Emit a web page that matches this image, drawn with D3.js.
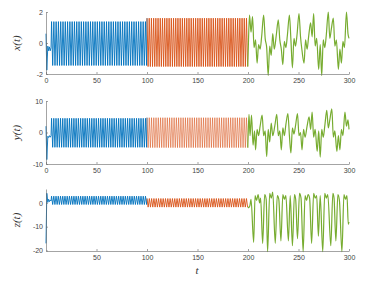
<!DOCTYPE html>
<html>
<head>
<meta charset="utf-8">
<script src="https://cdn.jsdelivr.net/npm/d3@7"></script>
<style>
  body { margin: 0; background: #fff; }
  .tick text { font-family: "Liberation Sans", Arial, sans-serif; font-size: 7px; fill: #444; }
  .domain, .tick line { stroke: #666; stroke-width: 0.6; }
  .lab { font-family: "Liberation Serif", "DejaVu Serif", serif; font-style: italic; font-size: 11px; fill: #333; }
</style>
</head>
<body>
<svg id="chart" width="373" height="286"></svg>
<script>
// 色 (Matlab default order)
const COLORS = { blue: "#0072BD", orange: "#D95319", green: "#77AC30" };

// x 軸の目盛り
const xTicksTop = [0, 50, 100, 150, 200, 250, 300];
const xTicksBottom = [50, 100, 150, 200, 250, 300];

// 各パネルの y 目盛り
const yTicksX = [-2, 0, 2];
const yTicksY = [-10, 0, 10];
const yTicksZ = [-20, -10, 0];

// 青: 過渡部分 (t, 値)
const blueLeadT = [0, 0.8, 1.8, 2.6, 3.4, 4.2, 5.0];
const xBlueLead = [0.6, -1.75, -0.2, -0.5, -0.25, -0.5, -0.3];
const yBlueLead = [2, -8.6, -1.2, -1.6, -1.0, -1.5, -1.0];
const zBlueLead = [-17, 4, 0.2, 1.5, 0.5, 1.2, 0.8];

// 青: 周期部分 (区間 [5.5, 99.6] に等間隔で並ぶ極値)
const blueSpan = [5.5, 99.6];
const xBlue = [1.38,-1.45,1.38,-1.45,1.38,-1.45,1.38,-1.45,1.38,-1.45,1.38,-1.45,1.38,-1.45,1.38,-1.45,1.38,-1.45,1.38,-1.45,1.38,-1.45,1.38,-1.45,1.38,-1.45,1.38,-1.45,1.38,-1.45,1.38,-1.45,1.38,-1.45,1.38,-1.45,1.38,-1.45,1.38,-1.45,1.38,-1.45,1.38,-1.45,1.38,-1.45,1.38,-1.45,1.38,-1.45,1.38,-1.45,1.38,-1.45,1.38,-1.45,1.38,-1.45,1.38,-1.45,1.38,-1.45,1.38,-1.45,1.38,-1.45,1.38,-1.45,1.38,-1.45,1.38,-1.45,1.38,-1.45,1.38,-1.45,1.38,-1.45,1.38,-1.45,1.38,-1.45,1.38,-1.45];
const yBlue = [4.5,-4.7,4.5,-4.7,4.5,-4.7,4.5,-4.7,4.5,-4.7,4.5,-4.7,4.5,-4.7,4.5,-4.7,4.5,-4.7,4.5,-4.7,4.5,-4.7,4.5,-4.7,4.5,-4.7,4.5,-4.7,4.5,-4.7,4.5,-4.7,4.5,-4.7,4.5,-4.7,4.5,-4.7,4.5,-4.7,4.5,-4.7,4.5,-4.7,4.5,-4.7,4.5,-4.7,4.5,-4.7,4.5,-4.7,4.5,-4.7,4.5,-4.7,4.5,-4.7,4.5,-4.7,4.5,-4.7,4.5,-4.7,4.5,-4.7,4.5,-4.7,4.5,-4.7,4.5,-4.7,4.5,-4.7,4.5,-4.7,4.5,-4.7,4.5,-4.7,4.5,-4.7,4.5,-4.7,4.5,-4.7];
const zBlue = [2.8,-0.7,2.8,-0.7,2.8,-0.7,2.8,-0.7,2.8,-0.7,2.8,-0.7,2.8,-0.7,2.8,-0.7,2.8,-0.7,2.8,-0.7,2.8,-0.7,2.8,-0.7,2.8,-0.7,2.8,-0.7,2.8,-0.7,2.8,-0.7,2.8,-0.7,2.8,-0.7,2.8,-0.7,2.8,-0.7,2.8,-0.7,2.8,-0.7,2.8,-0.7,2.8,-0.7,2.8,-0.7,2.8,-0.7,2.8,-0.7,2.8,-0.7,2.8,-0.7,2.8,-0.7,2.8,-0.7,2.8,-0.7,2.8,-0.7,2.8,-0.7,2.8,-0.7,2.8,-0.7,2.8,-0.7,2.8,-0.7,2.8,-0.7,2.8,-0.7,2.8,-0.7,2.8,-0.7,2.8,-0.7];

// 橙: 周期部分 (区間 [100, 199.6])
const orangeSpan = [100, 199.6];
const xOrange = [1.6,-1.52,1.6,-1.52,1.6,-1.52,1.6,-1.52,1.6,-1.52,1.6,-1.52,1.6,-1.52,1.6,-1.52,1.6,-1.52,1.6,-1.52,1.6,-1.52,1.6,-1.52,1.6,-1.52,1.6,-1.52,1.6,-1.52,1.6,-1.52,1.6,-1.52,1.6,-1.52,1.6,-1.52,1.6,-1.52,1.6,-1.52,1.6,-1.52,1.6,-1.52,1.6,-1.52,1.6,-1.52,1.6,-1.52,1.6,-1.52,1.6,-1.52,1.6,-1.52,1.6,-1.52,1.6,-1.52,1.6,-1.52,1.6,-1.52,1.6,-1.52,1.6,-1.52,1.6,-1.52,1.6,-1.52,1.6,-1.52,1.6,-1.52,1.6,-1.52,1.6,-1.52,1.6,-1.52,1.6,-1.52,1.6,-1.52,1.6,-1.52,1.6,-1.52];
const yOrange = [4.7,-4.8,4.7,-4.8,4.7,-4.8,4.7,-4.8,4.7,-4.8,4.7,-4.8,4.7,-4.8,4.7,-4.8,4.7,-4.8,4.7,-4.8,4.7,-4.8,4.7,-4.8,4.7,-4.8,4.7,-4.8,4.7,-4.8,4.7,-4.8,4.7,-4.8,4.7,-4.8,4.7,-4.8,4.7,-4.8,4.7,-4.8,4.7,-4.8,4.7,-4.8,4.7,-4.8,4.7,-4.8,4.7,-4.8,4.7,-4.8,4.7,-4.8,4.7,-4.8,4.7,-4.8,4.7,-4.8,4.7,-4.8,4.7,-4.8,4.7,-4.8,4.7,-4.8,4.7,-4.8,4.7,-4.8,4.7,-4.8,4.7,-4.8,4.7,-4.8,4.7,-4.8,4.7,-4.8,4.7,-4.8,4.7,-4.8,4.7,-4.8];
const zOrange = [1.8,-1.8,1.8,-1.8,1.8,-1.8,1.8,-1.8,1.8,-1.8,1.8,-1.8,1.8,-1.8,1.8,-1.8,1.8,-1.8,1.8,-1.8,1.8,-1.8,1.8,-1.8,1.8,-1.8,1.8,-1.8,1.8,-1.8,1.8,-1.8,1.8,-1.8,1.8,-1.8,1.8,-1.8,1.8,-1.8,1.8,-1.8,1.8,-1.8,1.8,-1.8,1.8,-1.8,1.8,-1.8,1.8,-1.8,1.8,-1.8,1.8,-1.8,1.8,-1.8,1.8,-1.8,1.8,-1.8,1.8,-1.8,1.8,-1.8,1.8,-1.8,1.8,-1.8,1.8,-1.8,1.8,-1.8,1.8,-1.8,1.8,-1.8,1.8,-1.8,1.8,-1.8,1.8,-1.8,1.8,-1.8,1.8,-1.8];

// 緑: カオス部分 (t, 値)
const xGreenT = [199.8,200.5,201.5,203,204.5,206,207.5,209,210.5,212,213.5,215.5,217,218.5,220,221.5,223,224.5,226,228,230,231.5,233,234.5,236,237.5,239,241,242.5,244,245.5,247,248.5,250.5,252,253.5,255.5,257,258.5,260,262,263.5,265,266.5,268,270,271.5,273,274.5,276,277.5,279.5,281,282.5,284.5,286,287.5,289.5,291,292.5,294,295.5,297.5,299,300];
const xGreen = [-1.52,0.2,1.8,0.7,1.7,-0.3,0.2,-1.3,-0.1,-0.4,0.4,1.8,0.3,-0.3,-2.1,-0.2,-0.8,0.6,-0.4,0.5,1.5,0.2,-0.4,-1.4,0.1,-0.3,0.5,1.8,0.2,-1.6,0.3,-0.2,0.5,1.9,0.4,-0.5,-1.3,0.2,-0.4,0.4,1.3,0.4,1.9,-0.2,0.3,-1.7,-0.1,-2.1,0.2,-0.3,0.5,2.0,0.3,0.9,1.6,-0.2,0.2,-1.7,-0.4,-1.3,0.1,-0.3,2.0,0.6,0.3];

const yGreenT = [199.8,200.3,201,202,203.5,205,206.5,207.5,209,210.5,212,214,215.5,217,218.5,220,221.5,223,224.5,226.5,228.5,230,231.5,233,234.5,236,237.5,239.5,241,242.5,244,245.5,247,249,250.5,252,253.5,255,256.5,258.5,260.5,262,263.5,265,266.5,268.5,270,271.5,273,274.5,276,278,279.5,281,283,284.5,286,288,289.5,291,292.5,294,296,297.5,299,300];
const yGreen = [-4.8,1,5.8,-1,5.5,-4,0.5,-5.5,1,-1,2,5.5,-1,0.5,-7.7,1,-3,3,-1,2,5.8,-1,0.5,-5.5,1.5,-1,2.5,6,-1,-6.5,1.5,-0.5,2,6,-1,0,-5.5,1,-1.5,2,5,1,6.5,-1.5,1,-6,0.5,-7.8,1,-1.5,2,7,1.5,4,7.5,-1.5,0.5,-6,-1,-5.5,1,-1,6.5,2,4,1];

const zGreenT = [199.8,201,202,203,205.6,207,208.5,210,211.5,212.5,214.5,216.5,218,219.4,221.5,223,224.5,227,229,230.5,232.6,234.5,236,237.5,240,241.8,244,246,247.2,249,251,252.5,254.6,256.5,258,259.5,261,263,265,266.5,268,269.7,271.5,274,276,277.5,279,282,284,285.2,287,289,290.5,293,295,296.5,298,299.3,300];
const zGreen = [-1.8,-2,-1,1.5,-16.6,3,1,3.5,0,2,-17,3.5,1.5,-20.5,4,2,4.5,-17,3,1.5,-16,3.5,1.5,3,-16,3,-18,3.5,1.5,-15,4,2,-20.5,3,1,3.5,2,-17,4,2,3,-14,3,-20.5,4,2,3.5,-18,4,2,-16,3.5,1,-20.5,3.5,1.5,3,-9,-8];

// パネルの配置
const X_RANGE = [46, 349];
const PANELS = [
    { top: 12, bottom: 74, domain: [-2, 2], ticks: yTicksX, label: "x(t)", xTicks: xTicksTop,
      lead: xBlueLead, blue: xBlue, orange: xOrange, gT: xGreenT, g: xGreen, orangeWidth: 0.9 },
    { top: 101, bottom: 164, domain: [-10, 10], ticks: yTicksY, label: "y(t)", xTicks: xTicksTop,
      lead: yBlueLead, blue: yBlue, orange: yOrange, gT: yGreenT, g: yGreen, orangeWidth: 0.55 },
    { top: 189, bottom: 251, domain: [-20.2, 5.8], ticks: yTicksZ, label: "z(t)", xTicks: xTicksBottom,
      lead: zBlueLead, blue: zBlue, orange: zOrange, gT: zGreenT, g: zGreen, orangeWidth: 0.9 }
];

const svg = d3.select("#chart");
const xScale = d3.scaleLinear().domain([0, 300]).range(X_RANGE);

/**
 * 区間内に等間隔で値を並べて (t, 値) の組を作る
 */
function spread(span, values) {
    const t = d3.scaleLinear().domain([0, values.length - 1]).range(span);
    return values.map((v, i) => [t(i), v]);
}

PANELS.forEach(p => {
    const yScale = d3.scaleLinear().domain(p.domain).range([p.bottom, p.top]);
    const g = svg.append("g");

    const line = d3.line()
        .x(d => xScale(d[0]))
        .y(d => yScale(d[1]));

    const bluePts = blueLeadT.map((t, i) => [t, p.lead[i]])
        .concat(spread(blueSpan, p.blue));
    bluePts.push([orangeSpan[0], p.orange[0]]);
    const orangePts = spread(orangeSpan, p.orange);
    const greenPts = p.gT.map((t, i) => [t, p.g[i]]);

    g.append("path").datum(bluePts)
        .attr("fill", "none").attr("stroke", COLORS.blue)
        .attr("stroke-width", 0.9).attr("d", line);
    g.append("path").datum(orangePts)
        .attr("fill", "none").attr("stroke", COLORS.orange)
        .attr("stroke-width", p.orangeWidth).attr("d", line);
    g.append("path").datum(greenPts)
        .attr("fill", "none").attr("stroke", COLORS.green)
        .attr("stroke-width", 1.2).attr("stroke-linejoin", "round")
        .attr("d", line.curve(d3.curveMonotoneX));

    // 軸
    g.append("g")
        .attr("transform", `translate(0,${p.bottom})`)
        .call(d3.axisBottom(xScale).tickValues(p.xTicks).tickFormat(d => String(d))
            .tickSizeInner(-2).tickSizeOuter(0).tickPadding(4));
    g.append("g")
        .attr("transform", `translate(${X_RANGE[0]},0)`)
        .call(d3.axisLeft(yScale).tickValues(p.ticks).tickFormat(d => String(d))
            .tickSizeInner(-2).tickSizeOuter(0).tickPadding(3));

    g.append("text")
        .attr("class", "lab")
        .attr("transform", `translate(20,${(p.top + p.bottom) / 2}) rotate(-90)`)
        .attr("text-anchor", "middle")
        .text(p.label);
});

svg.append("text")
    .attr("class", "lab")
    .attr("x", 197).attr("y", 274)
    .attr("text-anchor", "middle")
    .text("t");
</script>
</body>
</html>
